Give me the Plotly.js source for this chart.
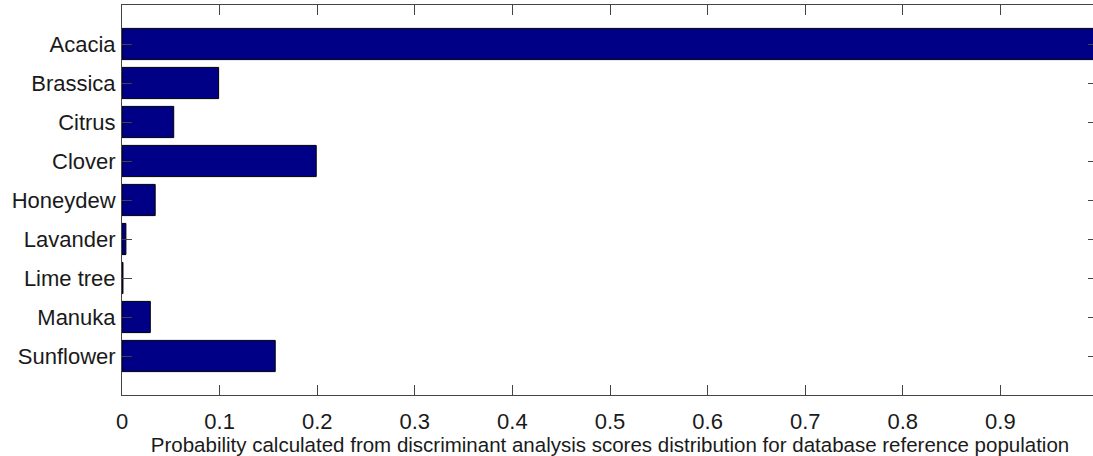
<!DOCTYPE html>
<html>
<head>
<meta charset="utf-8">
<script src="https://cdn.plot.ly/plotly-3.0.1.min.js"></script>
<style>
html,body{margin:0;padding:0;overflow:hidden;background:#fff;width:1093px;height:456px;}
#chart{width:1100px;height:456px;}
</style>
</head>
<body>
<div id="chart"></div>
<script>
const categories = ["Acacia","Brassica","Citrus","Clover","Honeydew","Lavander","Lime tree","Manuka","Sunflower"];
const probabilities = [1.0, 0.099, 0.053, 0.199, 0.034, 0.004, 0.001, 0.029, 0.157];
const xTickVals = [0, 0.1, 0.2, 0.3, 0.4, 0.5, 0.6, 0.7, 0.8, 0.9];
const xTickText = ["0","0.1","0.2","0.3","0.4","0.5","0.6","0.7","0.8","0.9"];
const xTitle = "Probability calculated from discriminant analysis scores distribution for database reference population";

const font = "Liberation Sans, Arial, Helvetica, sans-serif";

const trace = {
  type: "bar",
  orientation: "h",
  y: categories,
  x: probabilities,
  width: 0.8,
  marker: {color: "#000086", line: {color: "#000000", width: 1}},
  hoverinfo: "x+y"
};

const layout = {
  width: 1100,
  height: 456,
  margin: {l: 122, r: 2, t: 5, b: 61, pad: 0},
  paper_bgcolor: "#ffffff",
  plot_bgcolor: "#ffffff",
  showlegend: false,
  font: {family: font, color: "#1a1a1a", size: 22},
  xaxis: {
    range: [0, 1],
    tickvals: xTickVals,
    ticktext: xTickText,
    ticks: "inside",
    ticklen: 10,
    tickcolor: "#444",
    tickwidth: 1,
    showline: true,
    linecolor: "#444",
    linewidth: 1,
    mirror: "ticks",
    showgrid: false,
    zeroline: false,
    tickfont: {family: font, size: 22, color: "#1a1a1a"},
    ticklabelstandoff: 7,
    title: {text: xTitle, font: {family: font, size: 20.5, color: "#1a1a1a"}, standoff: 0}
  },
  yaxis: {
    autorange: false,
    range: [9, -1],
    type: "category",
    categoryorder: "array",
    categoryarray: categories,
    ticks: "inside",
    ticklen: 10,
    tickcolor: "#444",
    tickwidth: 1,
    showline: true,
    linecolor: "#444",
    linewidth: 1,
    mirror: "ticks",
    showgrid: false,
    zeroline: false,
    tickfont: {family: font, size: 22, color: "#1a1a1a"},
    ticklabelstandoff: 1
  }
};

Plotly.newPlot("chart", [trace], layout, {staticPlot: true, displayModeBar: false});
</script>
</body>
</html>
